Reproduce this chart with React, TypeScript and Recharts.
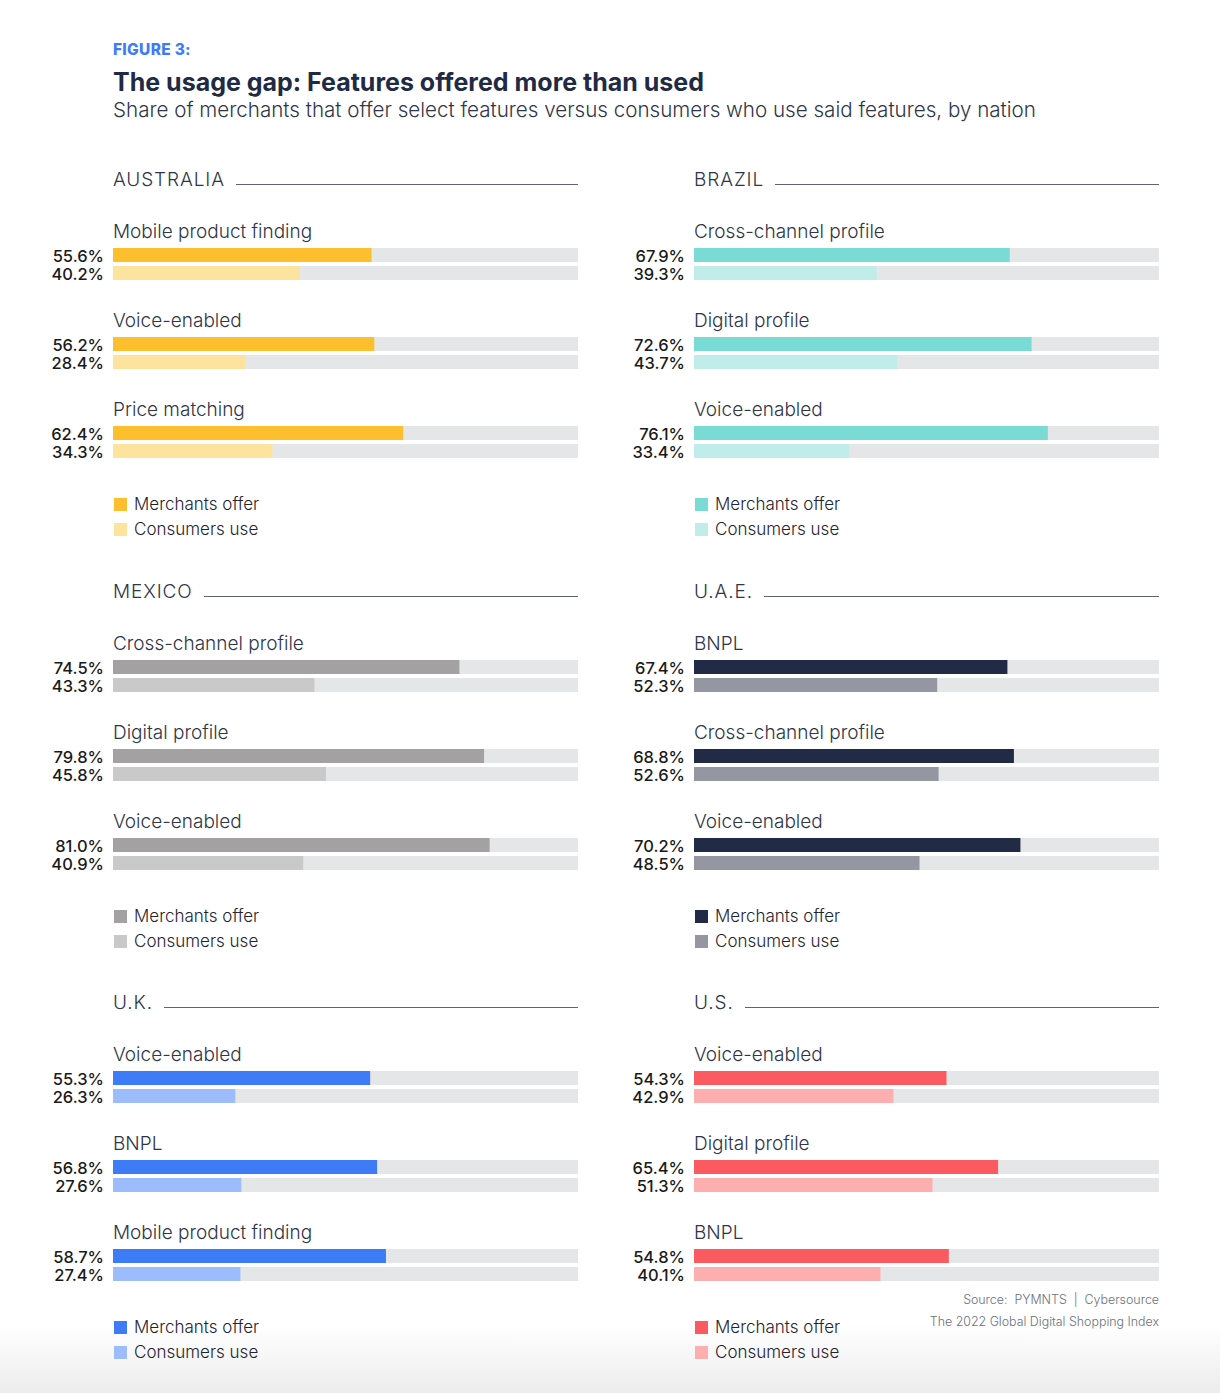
import React from "react";
import { BarChart, Bar, XAxis, YAxis, LabelList } from "recharts";

const FONT = "Inter, 'Open Sans', sans-serif";
const TRACK = "#e5e6e8";

const australiaFeatures = ["Mobile product finding", "Voice-enabled", "Price matching"];
const australiaMerchants = [55.6, 56.2, 62.4];
const australiaConsumers = [40.2, 28.4, 34.3];

const brazilFeatures = ["Cross-channel profile", "Digital profile", "Voice-enabled"];
const brazilMerchants = [67.9, 72.6, 76.1];
const brazilConsumers = [39.3, 43.7, 33.4];

const mexicoFeatures = ["Cross-channel profile", "Digital profile", "Voice-enabled"];
const mexicoMerchants = [74.5, 79.8, 81.0];
const mexicoConsumers = [43.3, 45.8, 40.9];

const uaeFeatures = ["BNPL", "Cross-channel profile", "Voice-enabled"];
const uaeMerchants = [67.4, 68.8, 70.2];
const uaeConsumers = [52.3, 52.6, 48.5];

const ukFeatures = ["Voice-enabled", "BNPL", "Mobile product finding"];
const ukMerchants = [55.3, 56.8, 58.7];
const ukConsumers = [26.3, 27.6, 27.4];

const usFeatures = ["Voice-enabled", "Digital profile", "BNPL"];
const usMerchants = [54.3, 65.4, 54.8];
const usConsumers = [42.9, 51.3, 40.1];

const legendLabels = ["Merchants offer", "Consumers use"];

type PanelDef = {
  title: string;
  features: string[];
  merchants: number[];
  consumers: number[];
  colors: [string, string];
  left: number;
  header: number;
};

const panels: PanelDef[] = [
  { title: "AUSTRALIA", features: australiaFeatures, merchants: australiaMerchants, consumers: australiaConsumers, colors: ["#fdbf2d", "#fde49e"], left: 113, header: 179 },
  { title: "BRAZIL", features: brazilFeatures, merchants: brazilMerchants, consumers: brazilConsumers, colors: ["#79dbd3", "#c0ede9"], left: 694, header: 179 },
  { title: "MEXICO", features: mexicoFeatures, merchants: mexicoMerchants, consumers: mexicoConsumers, colors: ["#a3a1a2", "#c9c9ca"], left: 113, header: 591 },
  { title: "U.A.E.", features: uaeFeatures, merchants: uaeMerchants, consumers: uaeConsumers, colors: ["#212b45", "#9497a2"], left: 694, header: 591 },
  { title: "U.K.", features: ukFeatures, merchants: ukMerchants, consumers: ukConsumers, colors: ["#3d7bf7", "#9dbcfb"], left: 113, header: 1002 },
  { title: "U.S.", features: usFeatures, merchants: usMerchants, consumers: usConsumers, colors: ["#fb5a60", "#fdaeae"], left: 694, header: 1002 },
];

const PLOT_W = 465;
const ML = 100;

const FeatureLabel = (props: any) => {
  const { x, y, value } = props;
  return (
    <text x={x} y={y - 17} dominantBaseline="central" fontFamily={FONT} fontSize={19} fontWeight={300} fill="#2f3548">
      {value}
    </text>
  );
};

const ValueLabel = (props: any) => {
  const { x, y, height, value } = props;
  return (
    <text x={x - 9} y={y + height / 2 + 1} textAnchor="end" dominantBaseline="central" fontFamily={FONT} fontSize={16.5} fontWeight={500} fill="#1a1a1a">
      {Number(value).toFixed(1)}%
    </text>
  );
};

const Panel = ({ p }: { p: PanelDef }) => {
  const data = p.features.map((f, i) => ({ feature: f, merchants: p.merchants[i], consumers: p.consumers[i] }));
  return (
    <>
      <div style={{ position: "absolute", left: p.left, top: p.header - 14, width: PLOT_W, height: 28, display: "flex", alignItems: "center", fontFamily: FONT, fontSize: 19, fontWeight: 300, color: "#2f3548" }}>
        <span style={{ whiteSpace: "nowrap", letterSpacing: 0.9 }}>{p.title}</span>
        <div style={{ flex: 1, height: 1, background: "#5f6475", marginLeft: 11, transform: "translateY(5px)" }} />
      </div>
      <div style={{ position: "absolute", left: p.left - ML, top: p.header + 21.5 }}>
        <BarChart width={ML + PLOT_W + 5} height={300} data={data} layout="vertical" margin={{ top: 18, right: 5, bottom: 15, left: ML }} barSize={14} barGap={4}>
          <XAxis type="number" domain={[0, 100]} hide />
          <YAxis type="category" dataKey="feature" hide />
          <Bar dataKey="merchants" fill={p.colors[0]} background={{ fill: TRACK }} isAnimationActive={false}>
            <LabelList dataKey="merchants" content={<ValueLabel />} />
            <LabelList dataKey="feature" content={<FeatureLabel />} />
          </Bar>
          <Bar dataKey="consumers" fill={p.colors[1]} background={{ fill: TRACK }} isAnimationActive={false}>
            <LabelList dataKey="consumers" content={<ValueLabel />} />
          </Bar>
        </BarChart>
      </div>
      {legendLabels.map((l, i) => (
        <div key={l} style={{ position: "absolute", left: p.left + 1, top: p.header + 325 + i * 25 - 11, height: 22, display: "flex", alignItems: "center", fontFamily: FONT, fontSize: 17, fontWeight: 300, color: "#1f2430" }}>
          <div style={{ width: 13, height: 13, background: p.colors[i], marginRight: 7 }} />
          <span>{l}</span>
        </div>
      ))}
    </>
  );
};

export default function App() {
  return (
    <div style={{ position: "absolute", left: 0, top: 0, width: 1220, height: 1393, background: "#ffffff", overflow: "hidden" }}>
      <div style={{ position: "absolute", left: 0, top: 1325, width: 1220, height: 68, background: "linear-gradient(to bottom, #ffffff, #ececec)" }} />
      <div style={{ position: "absolute", left: 113, top: 40, fontFamily: FONT, fontSize: 15.5, fontWeight: 800, color: "#3d7bf7", letterSpacing: 0.3 }}>FIGURE 3:</div>
      <div style={{ position: "absolute", left: 113, top: 67, fontFamily: FONT, fontSize: 25, fontWeight: 700, color: "#1f2a44", whiteSpace: "nowrap" }}>The usage gap: Features offered more than used</div>
      <div style={{ position: "absolute", left: 113, top: 97, fontFamily: FONT, fontSize: 20.6, fontWeight: 300, color: "#2f3548", whiteSpace: "nowrap" }}>Share of merchants that offer select features versus consumers who use said features, by nation</div>
      {panels.map((p) => (
        <Panel key={p.title} p={p} />
      ))}
      <div style={{ position: "absolute", right: 1220 - 1159, top: 1292, fontFamily: FONT, fontSize: 12.4, fontWeight: 300, color: "#6b7080", whiteSpace: "pre", textAlign: "right" }}>Source:  PYMNTS  |  Cybersource</div>
      <div style={{ position: "absolute", right: 1220 - 1159, top: 1314, fontFamily: FONT, fontSize: 12.4, fontWeight: 300, color: "#6b7080", whiteSpace: "nowrap", textAlign: "right" }}>The 2022 Global Digital Shopping Index</div>
    </div>
  );
}
